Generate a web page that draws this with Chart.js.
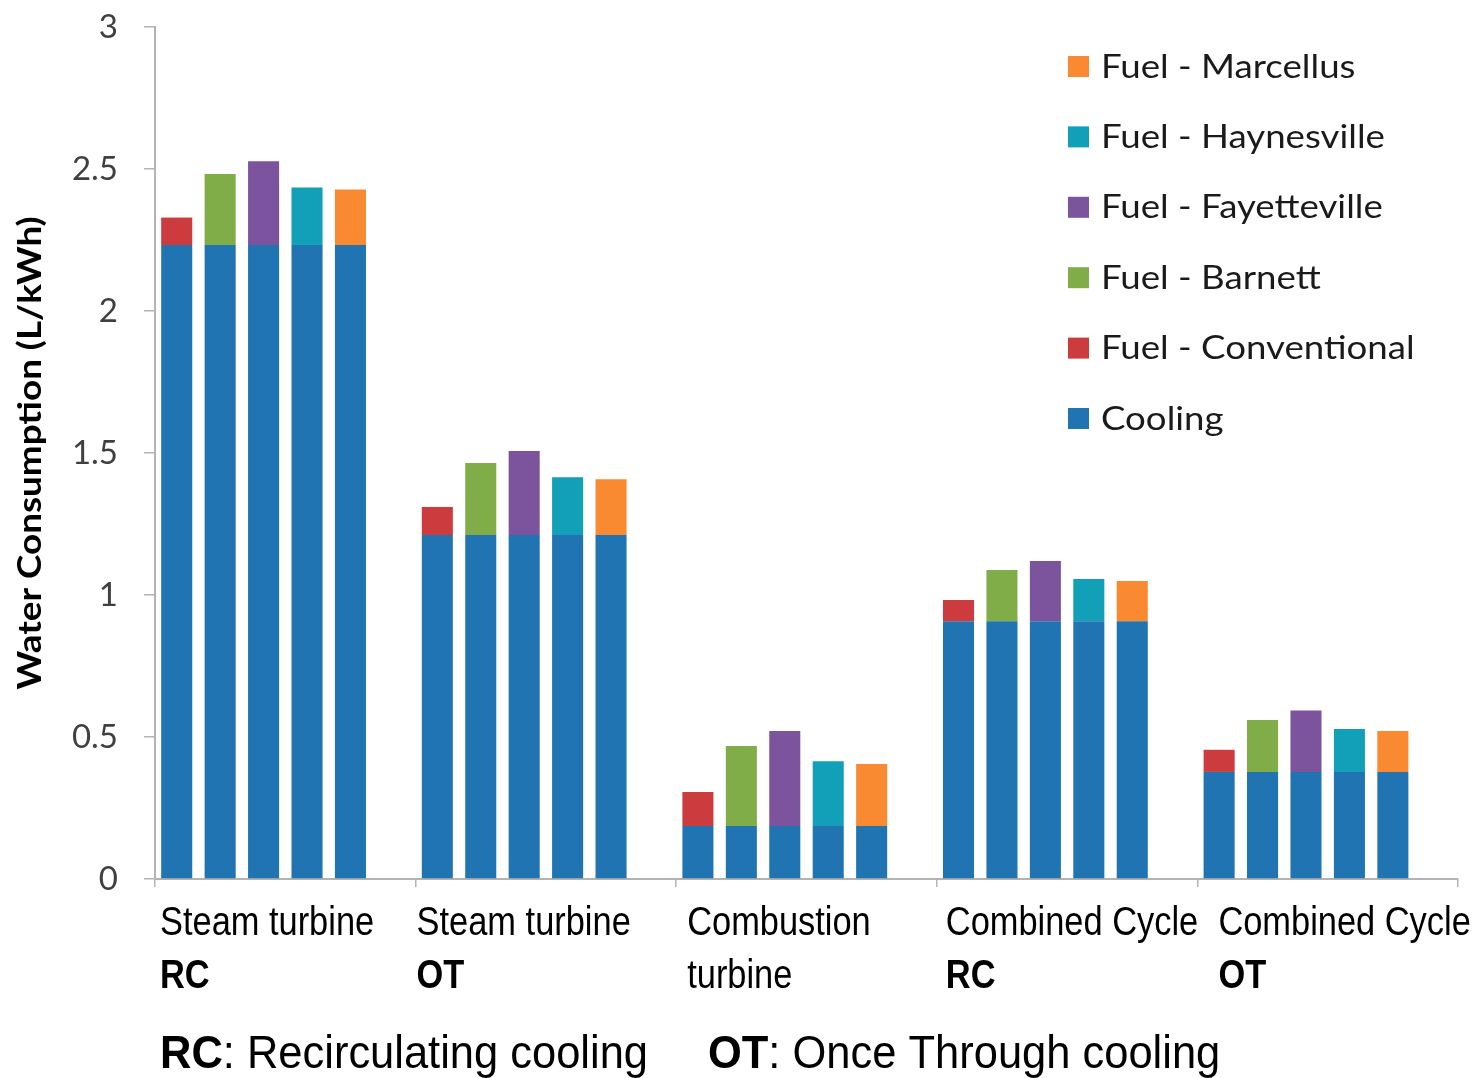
<!DOCTYPE html>
<html>
<head>
<meta charset="utf-8">
<script src="https://cdn.jsdelivr.net/npm/chart.js@4.4.1/dist/chart.umd.min.js"></script>
<style>
  html, body { margin: 0; padding: 0; background: #ffffff; }
  #wrap { width: 1478px; height: 1078px; position: relative; }
</style>
</head>
<body>
<div id="wrap"><canvas id="chart" width="1478" height="1078"></canvas></div>
<script>
// Plant types (two-line category labels; second line bold when it is a cooling code)
const categories = ['Steam turbine RC', 'Steam turbine OT', 'Combustion turbine', 'Combined Cycle RC', 'Combined Cycle OT'];
const labelLine1 = ['Steam turbine', 'Steam turbine', 'Combustion', 'Combined Cycle', 'Combined Cycle'];
const labelLine2 = ['RC', 'OT', 'turbine', 'RC', 'OT'];
const labelLine2Bold = [true, true, false, true, true];

// Water consumption, L/kWh
const cooling          = [2.232, 1.211, 0.187, 0.908, 0.377];
const fuelConventional = [0.097, 0.099, 0.119, 0.074, 0.078];
const fuelBarnett      = [0.250, 0.254, 0.281, 0.180, 0.183];
const fuelFayetteville = [0.295, 0.296, 0.334, 0.212, 0.216];
const fuelHaynesville  = [0.203, 0.204, 0.228, 0.148, 0.151];
const fuelMarcellus    = [0.196, 0.197, 0.218, 0.141, 0.144];

const yTicks = [0, 0.5, 1, 1.5, 2, 2.5, 3];

const COLORS = {
  cooling: '#1f74b1',
  conventional: '#cc3b3d',
  barnett: '#80ad47',
  fayetteville: '#7c549d',
  haynesville: '#12a0b8',
  marcellus: '#f98a31'
};

const fuels = [
  { label: 'Fuel - Conventional', data: fuelConventional, color: COLORS.conventional },
  { label: 'Fuel - Barnett',      data: fuelBarnett,      color: COLORS.barnett },
  { label: 'Fuel - Fayetteville', data: fuelFayetteville, color: COLORS.fayetteville },
  { label: 'Fuel - Haynesville',  data: fuelHaynesville,  color: COLORS.haynesville },
  { label: 'Fuel - Marcellus',    data: fuelMarcellus,    color: COLORS.marcellus }
];

// one stack per fuel source: cooling at the bottom, fuel on top
const datasets = [];
fuels.forEach((f, i) => {
  datasets.push({ label: 'Cooling', data: cooling, stack: 's' + i, backgroundColor: COLORS.cooling });
  datasets.push({ label: f.label, data: f.data, stack: 's' + i, backgroundColor: f.color });
});
// empty sixth slot keeps the clusters left of centre in each category
datasets.push({ label: '', data: categories.map(() => 0), stack: 's5', backgroundColor: 'rgba(0,0,0,0)' });

const legendOrder = ['Fuel - Marcellus', 'Fuel - Haynesville', 'Fuel - Fayetteville', 'Fuel - Barnett', 'Fuel - Conventional', 'Cooling'];

const ARIAL = '"Liberation Sans", Arial, sans-serif';
const SANS = 'Lato, "Open Sans", sans-serif';

// text drawn with a horizontal scale factor (narrow or widened faces)
function drawStretched(ctx, text, x, y, sx) {
  ctx.save();
  ctx.translate(x, y);
  ctx.scale(sx, 1);
  ctx.fillText(text, 0, 0);
  const w = ctx.measureText(text).width * sx;
  ctx.restore();
  return w;
}

const decorations = {
  id: 'decorations',
  afterDraw(chart) {
    const ctx = chart.ctx;
    const xs = chart.scales.x;
    const ys = chart.scales.y;
    const catW = xs.width / categories.length;
    const labelOffset = [5, 1, 11, 9, 21];

    ctx.save();
    ctx.fillStyle = '#000000';
    ctx.textAlign = 'left';
    ctx.textBaseline = 'alphabetic';

    // category labels
    const sx = 0.86;
    categories.forEach((c, i) => {
      const left = xs.getPixelForValue(i) - catW / 2 + labelOffset[i];
      ctx.font = '40px ' + ARIAL;
      drawStretched(ctx, labelLine1[i], left, 935, sx);
      ctx.font = (labelLine2Bold[i] ? 'bold ' : '') + '40px ' + ARIAL;
      drawStretched(ctx, labelLine2[i], left, 988, sx);
    });

    // abbreviation key under the axis
    const kx = 0.945;
    let x = 160;
    ctx.font = 'bold 46px ' + ARIAL;
    x += drawStretched(ctx, 'RC', x, 1068, kx);
    ctx.font = '46px ' + ARIAL;
    drawStretched(ctx, ': Recirculating cooling', x, 1068, kx);
    x = 708;
    ctx.font = 'bold 46px ' + ARIAL;
    x += drawStretched(ctx, 'OT', x, 1068, kx);
    ctx.font = '46px ' + ARIAL;
    drawStretched(ctx, ': Once Through cooling', x, 1068, kx);

    // y-axis title, rotated
    ctx.save();
    ctx.translate(31, (ys.top + ys.bottom) / 2);
    ctx.rotate(-Math.PI / 2);
    ctx.font = 'bold 32px ' + SANS;
    ctx.textBaseline = 'middle';
    const title = 'Water Consumption (L/kWh)';
    const tsx = 1.15;
    const tw = ctx.measureText(title).width * tsx;
    drawStretched(ctx, title, -tw / 2, 0, tsx);
    ctx.restore();

    // legend
    ctx.font = '33px ' + SANS;
    ctx.textBaseline = 'middle';
    legendOrder.forEach((name, i) => {
      const ds = chart.data.datasets.find(d => d.label === name);
      const cy = 66 + i * 70.4;
      ctx.fillStyle = ds.backgroundColor;
      ctx.fillRect(1068, cy - 10, 21, 21);
      ctx.fillStyle = '#1a1a1a';
      drawStretched(ctx, name, 1101, cy + 1, 1.11);
    });
    ctx.restore();
  }
};

new Chart(document.getElementById('chart'), {
  type: 'bar',
  data: { labels: categories, datasets },
  options: {
    responsive: false,
    animation: false,
    devicePixelRatio: 1,
    layout: { padding: { top: 27, right: 20, left: 0, bottom: 0 } },
    datasets: { bar: { barPercentage: 0.715, categoryPercentage: 1.0, borderWidth: 0 } },
    plugins: {
      legend: { display: false },
      tooltip: { enabled: false }
    },
    scales: {
      x: {
        stacked: true,
        grid: { drawOnChartArea: false, drawTicks: true, tickLength: 8, color: '#b3b3b3', lineWidth: 1.5 },
        border: { display: true, color: '#b3b3b3', width: 2 },
        ticks: { display: false },
        afterFit(s) { s.height = 199; }
      },
      y: {
        stacked: true,
        min: 0,
        max: 3,
        afterBuildTicks(s) { s.ticks = yTicks.map(v => ({ value: v })); },
        grid: { drawOnChartArea: false, drawTicks: true, tickLength: 11, color: '#b3b3b3', lineWidth: 1.5 },
        border: { display: true, color: '#b3b3b3', width: 2 },
        ticks: {
          padding: 26,
          color: '#404040',
          font: { family: SANS, size: 33 },
          callback: v => String(v)
        },
        afterFit(s) {
          s.width = 155;
          s.paddingTop = 0;
          s.paddingBottom = 0;
        }
      }
    }
  },
  plugins: [decorations]
});
</script>
</body>
</html>
